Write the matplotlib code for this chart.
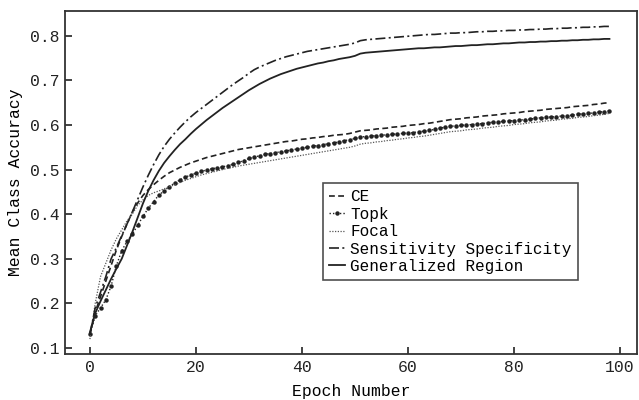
import matplotlib
matplotlib.use("Agg")
import matplotlib.pyplot as plt
import numpy as np

epochs = list(range(0, 99))

ce = [0.130, 0.180, 0.215, 0.250, 0.285, 0.320, 0.350, 0.378, 0.405, 0.425,
      0.442, 0.455, 0.466, 0.476, 0.485, 0.493, 0.499, 0.505, 0.510, 0.515,
      0.519, 0.523, 0.527, 0.530, 0.533, 0.536, 0.539, 0.542, 0.545, 0.547,
      0.549, 0.551, 0.553, 0.555, 0.557, 0.559, 0.561, 0.563, 0.564, 0.566,
      0.568, 0.569, 0.571, 0.572, 0.574, 0.575, 0.577, 0.578, 0.579, 0.581,
      0.584, 0.587, 0.588, 0.589, 0.591, 0.592, 0.593, 0.595, 0.596, 0.597,
      0.599, 0.600, 0.601, 0.603, 0.604, 0.606, 0.608, 0.610, 0.612, 0.613,
      0.614, 0.616, 0.617, 0.618, 0.620, 0.621, 0.622, 0.623, 0.625, 0.626,
      0.627, 0.628, 0.630, 0.631, 0.632, 0.633, 0.635, 0.636, 0.637, 0.638,
      0.639, 0.641, 0.642, 0.643, 0.644, 0.646, 0.647, 0.649, 0.650]

topk = [0.131, 0.172, 0.190, 0.208, 0.239, 0.285, 0.318, 0.339, 0.355, 0.375,
        0.395, 0.413, 0.428, 0.443, 0.452, 0.462, 0.470, 0.477, 0.483, 0.488,
        0.492, 0.496, 0.499, 0.502, 0.504, 0.506, 0.509, 0.512, 0.516, 0.520,
        0.525, 0.528, 0.531, 0.534, 0.536, 0.538, 0.540, 0.542, 0.544, 0.546,
        0.548, 0.550, 0.552, 0.554, 0.556, 0.558, 0.560, 0.562, 0.565, 0.567,
        0.570, 0.573, 0.574, 0.575, 0.576, 0.577, 0.578, 0.579, 0.580, 0.581,
        0.582, 0.583, 0.585, 0.586, 0.588, 0.590, 0.593, 0.595, 0.597, 0.598,
        0.599, 0.600, 0.601, 0.602, 0.603, 0.605, 0.606, 0.607, 0.608, 0.609,
        0.610, 0.611, 0.612, 0.613, 0.615, 0.616, 0.617, 0.618, 0.619, 0.620,
        0.621, 0.622, 0.624, 0.625, 0.626, 0.627, 0.629, 0.630, 0.632]

focal = [0.120, 0.200, 0.260, 0.290, 0.320, 0.345, 0.365, 0.385, 0.400, 0.420,
         0.432, 0.442, 0.448, 0.452, 0.457, 0.462, 0.466, 0.471, 0.476, 0.480,
         0.484, 0.488, 0.491, 0.494, 0.497, 0.500, 0.503, 0.505, 0.508, 0.510,
         0.512, 0.514, 0.516, 0.518, 0.520, 0.522, 0.524, 0.526, 0.528, 0.530,
         0.532, 0.534, 0.536, 0.538, 0.540, 0.542, 0.544, 0.546, 0.548, 0.550,
         0.553, 0.557, 0.559, 0.560, 0.562, 0.563, 0.565, 0.566, 0.568, 0.569,
         0.571, 0.572, 0.574, 0.575, 0.577, 0.579, 0.581, 0.583, 0.585, 0.586,
         0.587, 0.589, 0.590, 0.591, 0.593, 0.594, 0.595, 0.597, 0.598, 0.599,
         0.601, 0.602, 0.603, 0.605, 0.606, 0.607, 0.609, 0.610, 0.611, 0.613,
         0.614, 0.615, 0.617, 0.618, 0.619, 0.621, 0.622, 0.624, 0.626]

sens_spec = [0.130, 0.190, 0.225, 0.260, 0.300, 0.325, 0.352, 0.378, 0.405, 0.433,
             0.461, 0.487, 0.511, 0.533, 0.552, 0.568, 0.582, 0.595, 0.607, 0.618,
             0.628, 0.637, 0.646, 0.655, 0.664, 0.673, 0.682, 0.691, 0.699, 0.707,
             0.716, 0.724, 0.730, 0.735, 0.740, 0.745, 0.749, 0.753, 0.756, 0.759,
             0.762, 0.765, 0.767, 0.769, 0.771, 0.773, 0.775, 0.777, 0.779, 0.781,
             0.784, 0.789, 0.791, 0.792, 0.793, 0.794, 0.795, 0.796, 0.797, 0.798,
             0.799, 0.800, 0.801, 0.802, 0.803, 0.803, 0.804, 0.805, 0.806, 0.806,
             0.807, 0.807, 0.808, 0.809, 0.809, 0.810, 0.810, 0.811, 0.811, 0.812,
             0.812, 0.813, 0.813, 0.814, 0.814, 0.815, 0.815, 0.816, 0.816, 0.817,
             0.817, 0.818, 0.818, 0.819, 0.819, 0.820, 0.820, 0.821, 0.821]

gen_region = [0.135, 0.178, 0.205, 0.230, 0.255, 0.278, 0.300, 0.330, 0.360, 0.392,
              0.424, 0.452, 0.476, 0.497, 0.515, 0.530, 0.544, 0.557, 0.568, 0.580,
              0.591, 0.601, 0.611, 0.620, 0.629, 0.638, 0.646, 0.654, 0.662, 0.670,
              0.678, 0.685, 0.692, 0.698, 0.704, 0.709, 0.714, 0.718, 0.722, 0.726,
              0.729, 0.732, 0.735, 0.738, 0.740, 0.743, 0.745, 0.748, 0.750, 0.752,
              0.755, 0.760, 0.762, 0.763, 0.764, 0.765, 0.766, 0.767, 0.768, 0.769,
              0.770, 0.771, 0.772, 0.772, 0.773, 0.774, 0.774, 0.775, 0.776, 0.777,
              0.777, 0.778, 0.779, 0.779, 0.780, 0.781, 0.781, 0.782, 0.783, 0.783,
              0.784, 0.785, 0.785, 0.786, 0.786, 0.787, 0.787, 0.788, 0.788, 0.789,
              0.789, 0.790, 0.790, 0.791, 0.791, 0.792, 0.792, 0.793, 0.793]

labels = ["CE", "Topk", "Focal", "Sensitivity Specificity", "Generalized Region"]
x_ticks = [0, 20, 40, 60, 80, 100]
y_ticks = [0.1, 0.2, 0.3, 0.4, 0.5, 0.6, 0.7, 0.8]

plt.rcParams['font.family'] = ['Liberation Mono', 'DejaVu Sans Mono']

fig = plt.figure(figsize=(6.39, 4.0), dpi=100)
ax = fig.add_axes([0.1017, 0.115, 0.8952, 0.858])

c = '#222222'
ax.plot(epochs, ce, linestyle=(0, (3.5, 2)), color=c, lw=1.2, label=labels[0])
ax.plot(epochs, topk, linestyle=(0, (1, 1.5)), color=c, lw=1.0, marker='o',
        markersize=3.2, markeredgewidth=0, label=labels[1])
ax.plot(epochs, focal, linestyle=(0, (1, 1.2)), color='#555555', lw=0.9, label=labels[2])
ax.plot(epochs, sens_spec, linestyle=(0, (6, 2, 1.2, 2)), color=c, lw=1.2, label=labels[3])
ax.plot(epochs, gen_region, linestyle='-', color=c, lw=1.3, label=labels[4])

ax.set_xlim(-4.7, 103.2)
ax.set_ylim(0.0866, 0.856)
ax.set_xticks(x_ticks)
ax.set_yticks(y_ticks)
ax.set_yticklabels([f"{v:.1f}" for v in y_ticks])
ax.tick_params(direction='in', length=5, width=1.2, colors='#222222', labelsize=11.8, pad=4)
for s in ax.spines.values():
    s.set_linewidth(1.3)
    s.set_color('#333333')

ax.set_xlabel("Epoch Number", fontsize=11.8, labelpad=7)
ax.set_ylabel("Mean Class Accuracy", fontsize=11.8, labelpad=5)

leg = ax.legend(loc='upper left', bbox_to_anchor=(0.451, 0.498), fontsize=11.5,
                handlelength=1.0, handletextpad=0.3, labelspacing=0.15,
                borderpad=0.4, borderaxespad=0, frameon=True, fancybox=False)
leg.get_frame().set_edgecolor('#222222')
leg.get_frame().set_linewidth(1.2)

fig.savefig("out.png", dpi=100)
